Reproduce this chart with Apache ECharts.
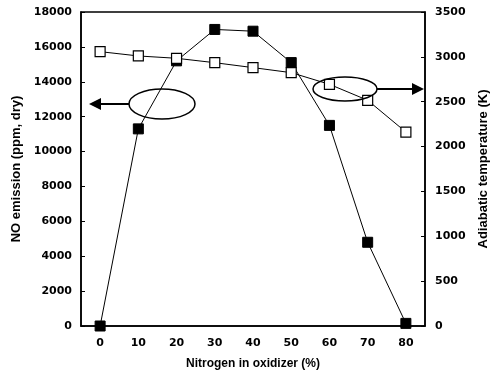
<!DOCTYPE html>
<html><head><meta charset="utf-8">
<script src="https://cdn.jsdelivr.net/npm/echarts@6/dist/echarts.min.js"></script>
<style>html,body{margin:0;padding:0;background:#fff}#c{width:492px;height:383px}</style>
</head><body><div id="c"></div>
<script>
const categories = ['0','10','20','30','40','50','60','70','80'];
const noEmission = [0, 11300, 15200, 17000, 16900, 15100, 11500, 4800, 150];
const adiabaticTemp = [3058, 3010, 2984, 2935, 2880, 2824, 2694, 2516, 2162];
const leftTicks = {min: 0, max: 18000, interval: 2000};
const rightTicks = {min: 0, max: 3500, interval: 500};

const tickFont = {fontFamily: 'DejaVu Sans', fontWeight: 'bold', fontSize: 11, color: '#000'};
const plain = v => String(v);
const chart = echarts.init(document.getElementById('c'));
chart.setOption({
  animation: false,
  backgroundColor: '#fff',
  grid: {left: 81, right: 67, top: 12, bottom: 57, show: true, borderColor: '#000', borderWidth: 1.5, containLabel: false, outerBoundsMode: 'none'},
  xAxis: {
    type: 'category', data: categories, boundaryGap: true,
    name: 'Nitrogen in oxidizer (%)', nameLocation: 'middle', nameGap: 32,
    nameTextStyle: {fontFamily: 'Liberation Sans', fontWeight: 'bold', fontSize: 12, color: '#000'},
    axisLine: {lineStyle: {color: '#000', width: 1.5}},
    axisTick: {inside: true, length: 4, lineStyle: {color: '#000'}},
    axisLabel: Object.assign({margin: 12}, tickFont)
  },
  yAxis: [{
    type: 'value', min: leftTicks.min, max: leftTicks.max, interval: leftTicks.interval,
    name: 'NO emission (ppm, dry)', nameLocation: 'middle', nameGap: 58, nameRotate: 90,
    nameTextStyle: {fontFamily: 'Liberation Sans', fontWeight: 'bold', fontSize: 13, color: '#000'},
    axisLine: {show: true, lineStyle: {color: '#000', width: 1.5}},
    axisTick: {show: true, inside: true, length: 4, lineStyle: {color: '#000'}},
    splitLine: {show: false},
    axisLabel: Object.assign({margin: 9, formatter: plain}, tickFont)
  }, {
    type: 'value', min: rightTicks.min, max: rightTicks.max, interval: rightTicks.interval,
    name: 'Adiabatic temperature (K)', nameLocation: 'middle', nameGap: 46, nameRotate: 90,
    nameTextStyle: {fontFamily: 'Liberation Sans', fontWeight: 'bold', fontSize: 13, color: '#000'},
    axisLine: {show: true, lineStyle: {color: '#000', width: 1.5}},
    axisTick: {show: true, inside: true, length: 4, lineStyle: {color: '#000'}},
    splitLine: {show: false},
    axisLabel: Object.assign({margin: 10, formatter: plain}, tickFont)
  }],
  series: [{
    type: 'line', yAxisIndex: 0, data: noEmission,
    symbol: 'rect', symbolSize: 10, showAllSymbol: true,
    lineStyle: {color: '#000', width: 1},
    itemStyle: {color: '#000', borderColor: '#000', borderWidth: 1}
  }, {
    type: 'line', yAxisIndex: 1, data: adiabaticTemp,
    symbol: 'rect', symbolSize: 10, showAllSymbol: true,
    lineStyle: {color: '#000', width: 1},
    itemStyle: {color: '#fff', borderColor: '#000', borderWidth: 1.2}
  }],
  graphic: [
    {type: 'ellipse', shape: {cx: 162, cy: 104, rx: 33, ry: 15}, style: {fill: 'none', stroke: '#000', lineWidth: 1.5}, z: 10},
    {type: 'line', shape: {x1: 129, y1: 104, x2: 98, y2: 104}, style: {stroke: '#000', lineWidth: 2}, z: 10},
    {type: 'polygon', shape: {points: [[89,104],[101,98],[101,110]]}, style: {fill: '#000'}, z: 10},
    {type: 'ellipse', shape: {cx: 345, cy: 89, rx: 32, ry: 12}, style: {fill: 'none', stroke: '#000', lineWidth: 1.5}, z: 10},
    {type: 'line', shape: {x1: 377, y1: 89, x2: 414, y2: 89}, style: {stroke: '#000', lineWidth: 2}, z: 10},
    {type: 'polygon', shape: {points: [[424,89],[412,83],[412,95]]}, style: {fill: '#000'}, z: 10}
  ]
});
</script></body></html>
